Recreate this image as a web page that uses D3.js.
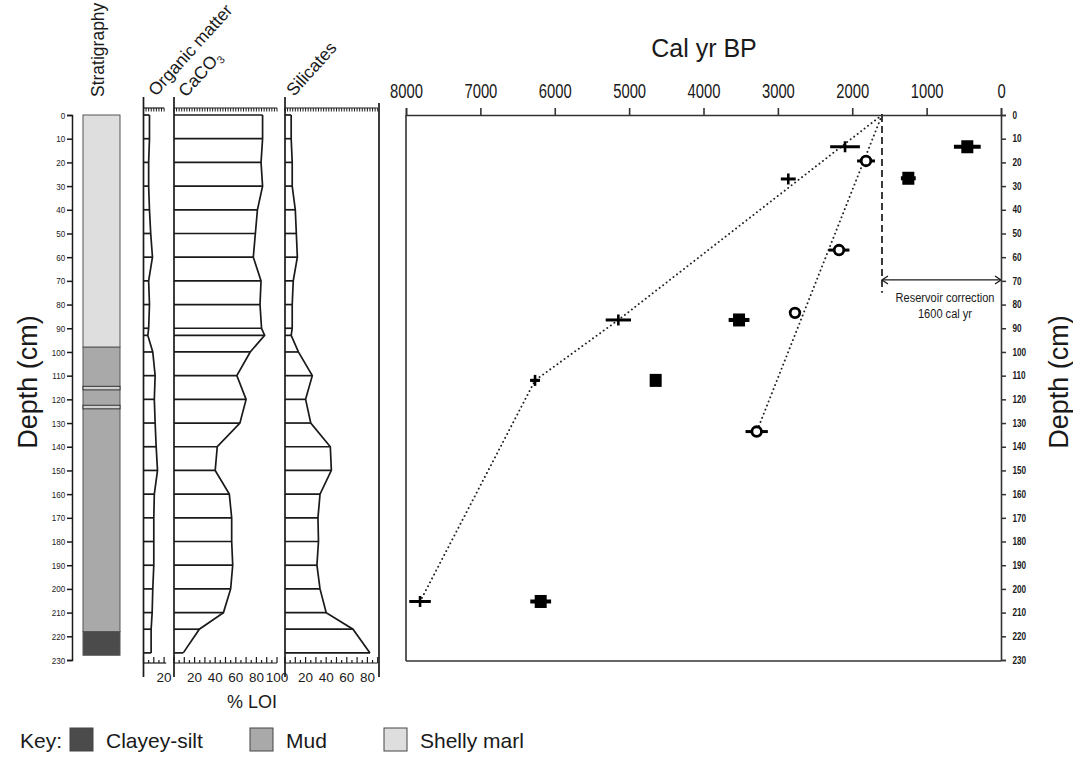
<!DOCTYPE html>
<html><head><meta charset="utf-8">
<script src="https://cdn.jsdelivr.net/npm/d3@7"></script>
<style>
body{margin:0;background:#fff;}
svg{display:block;}
text{font-family:"Liberation Sans",Arial,sans-serif;}
</style></head>
<body>
<script>
// ---------------- DATA ----------------
const sampleDepths = [0,10,20,30,40,50,60,70,80,90,93,100,110,120,130,140,150,160,170,180,190,200,210,217,227];
const organicMatter = [5.8,5.8,5,5,5.8,7,8.7,5,5.8,5,4.2,9,11.3,10.5,11.3,12.3,13.6,10.5,10,10,10,9,8.4,7.4,7.4];
const caco3 = [86,86,84.5,86,81,79,77,84.5,83.5,85,88,74,61,70,64,42,40,53.7,56,56,57,55,48,24.6,9];
const silicates = [6,6,7,7,10,11,12,8,7,7,6,13,26.5,20,25,44,45,34,32,32.5,31,34,40,66,82.5];

const stratLayers = [
  {top:0, bottom:98, type:"Shelly marl"},
  {top:98, bottom:218, type:"Mud"},
  {top:218, bottom:228, type:"Clayey-silt"}
];
const stratBands = [[114.5,116],[122.5,124]];
const legendKeys = ["Clayey-silt","Mud","Shelly marl"];
const stratColors = {"Clayey-silt":"#4b4b4b","Mud":"#a9a9a9","Shelly marl":"#dedede"};

// dates: [cal yr BP, depth cm, error yr]
const crossDates  = [[2097,13.4,200],[2860,27,100],[5145,86.5,170],[6265,112,50],[7811,205.3,145]];
const circleDates = [[1815,19.4,120],[2178,57,140],[2770,83.5,0],[3285,133.6,150]];
const squareDates = [[453,13.4,180],[1246,26.7,100],[3522,86.5,140],[4643,112,0],[6189,205.3,140]];
const ageModel1 = [[1600,0],[5145,86.5],[6265,112],[7811,205.3]];
const ageModel2 = [[1600,0],[3285,133.6]];
const reservoirAge = 1600;
const reservoirDepth = 69.6;

const ageTicks = [8000,7000,6000,5000,4000,3000,2000,1000,0];
const depthTicks = d3.range(0,231,10);
const pctLabelsCa = [20,40,60,80,100];
const pctLabelsSi = [20,40,60,80];
const pctLabelsOM = [20];

// ---------------- LAYOUT ----------------
const W=1073,H=763;
const svg=d3.select("body").append("svg").attr("width",W).attr("height",H);
const y=d3.scaleLinear().domain([0,230]).range([115,660]);
const x=d3.scaleLinear().domain([8000,0]).range([406,1001]);
const PX=1.03; // px per percent
const panels=[
  {x0:143.5, vals:organicMatter, topMax:20, botMax:22, labels:pctLabelsOM},
  {x0:174, vals:caco3, topMax:100, botMax:100, labels:pctLabelsCa},
  {x0:285, vals:silicates, topMax:90, botMax:90, labels:pctLabelsSi}
];
const ink="#1a1a1a";

// ---------- Stratigraphy ----------
const gS=svg.append("g");
gS.selectAll("rect.layer").data(stratLayers).join("rect")
  .attr("x",83).attr("width",37)
  .attr("y",d=>y(d.top)).attr("height",d=>y(d.bottom)-y(d.top))
  .attr("fill",d=>stratColors[d.type]).attr("stroke","#555").attr("stroke-width",1);
gS.selectAll("rect.band").data(stratBands).join("rect")
  .attr("x",83).attr("width",37)
  .attr("y",d=>y(d[0])).attr("height",d=>y(d[1])-y(d[0]))
  .attr("fill","#d2d2d2").attr("stroke","#333").attr("stroke-width",1);

// left depth axis
const axL=d3.axisLeft(y).tickValues(depthTicks).tickSize(5).tickPadding(3);
const gL=svg.append("g").attr("transform","translate(72,0)").call(axL);
gL.select(".domain").attr("stroke",ink).attr("stroke-width",1.5);
gL.selectAll(".tick line").attr("stroke",ink).attr("stroke-width",1.5);
gL.selectAll("text").attr("font-size",9.5).attr("fill",ink).attr("transform","scale(0.85,1)").attr("font-family","Liberation Sans");

// ---------- % LOI panels ----------
panels.forEach(p=>{
  const sx=d3.scaleLinear().domain([0,100]).range([p.x0,p.x0+100*PX]);
  const g=svg.append("g");
  g.selectAll("line.s").data(sampleDepths).join("line")
    .attr("x1",p.x0).attr("x2",(d,i)=>sx(p.vals[i]))
    .attr("y1",d=>y(d)).attr("y2",d=>y(d))
    .attr("stroke",ink).attr("stroke-width",1.7);
  const line=d3.line().x(d=>sx(d[1])).y(d=>y(d[0]));
  g.append("path").datum(sampleDepths.map((d,i)=>[d,p.vals[i]]))
    .attr("d",line).attr("fill","none").attr("stroke",ink).attr("stroke-width",1.7);
  g.append("line").attr("x1",p.x0).attr("x2",p.x0).attr("y1",97).attr("y2",677)
    .attr("stroke",ink).attr("stroke-width",1.7);
  g.append("line").attr("x1",p.x0).attr("x2",sx(p.topMax)).attr("y1",108).attr("y2",108)
    .attr("stroke",ink).attr("stroke-width",1.2);
  g.selectAll("line.tt").data(d3.range(0,p.topMax+0.01,2.5)).join("line")
    .attr("x1",d=>sx(d)).attr("x2",d=>sx(d)).attr("y1",108).attr("y2",111.5)
    .attr("stroke",ink).attr("stroke-width",1);
  g.append("line").attr("x1",p.x0).attr("x2",sx(p.botMax)).attr("y1",663).attr("y2",663)
    .attr("stroke",ink).attr("stroke-width",1.2);
  g.selectAll("line.bt").data(d3.range(0,p.botMax+0.01,5)).join("line")
    .attr("x1",d=>sx(d)).attr("x2",d=>sx(d)).attr("y1",663).attr("y2",d=>d%10===0?657:660)
    .attr("stroke",ink).attr("stroke-width",1.2);
  g.selectAll("text.bl").data(p.labels).join("text")
    .attr("x",d=>sx(d)).attr("y",682)
    .attr("text-anchor","middle").attr("font-size",13.5).attr("fill",ink).text(d=>d);
});
svg.append("line").attr("x1",379).attr("x2",379).attr("y1",103).attr("y2",677)
  .attr("stroke",ink).attr("stroke-width",1.7);

// headers
svg.append("text").attr("font-size",17.5).attr("fill",ink)
  .attr("transform","translate(104,97) rotate(-90)").text("Stratigraphy");
svg.append("text").attr("font-size",17.5).attr("fill",ink)
  .attr("transform","translate(156,97) rotate(-48)").text("Organic matter");
const ca=svg.append("text").attr("font-size",17.5).attr("fill",ink)
  .attr("transform","translate(186,98) rotate(-48)");
ca.append("tspan").text("CaCO");
ca.append("tspan").attr("font-size",11).attr("dy",4).text("3");
svg.append("text").attr("font-size",17.5).attr("fill",ink)
  .attr("transform","translate(294,97) rotate(-48)").text("Silicates");
svg.append("text").attr("font-size",18).attr("fill",ink)
  .attr("x",252).attr("y",708).attr("text-anchor","middle").text("% LOI");

// ---------- Age-depth plot ----------
const gA=svg.append("g");
gA.append("line").attr("x1",406).attr("x2",406).attr("y1",115).attr("y2",661).attr("stroke","#333").attr("stroke-width",1.6);
gA.append("line").attr("x1",406).attr("x2",1001).attr("y1",661).attr("y2",661).attr("stroke","#333").attr("stroke-width",1.6);
const axT=d3.axisTop(x).tickValues(ageTicks).tickFormat(d3.format("d")).tickSize(7).tickPadding(10);
const gT=svg.append("g").attr("transform","translate(0,115)").call(axT);
gT.select(".domain").attr("stroke","#333").attr("stroke-width",1.6);
gT.selectAll(".tick line").attr("stroke","#333").attr("stroke-width",1.6);
gT.selectAll("text").attr("font-size",19.5).attr("fill",ink).attr("transform","scale(0.76,1)").attr("font-family","Liberation Sans");
const axR=d3.axisRight(y).tickValues(depthTicks).tickSize(5).tickPadding(9);
const gR=svg.append("g").attr("transform","translate(1001,0)").call(axR);
gR.select(".domain").attr("stroke","#333").attr("stroke-width",1.6);
gR.selectAll(".tick line").attr("stroke","#333").attr("stroke-width",1.5);
gR.selectAll("text").attr("font-size",10).attr("font-weight","bold").attr("fill",ink).attr("transform","scale(0.82,1)").attr("font-family","Liberation Sans");

svg.append("text").attr("font-size",25).attr("fill",ink)
  .attr("x",704).attr("y",57).attr("text-anchor","middle").text("Cal yr BP");
svg.append("text").attr("font-size",27).attr("fill",ink)
  .attr("transform","translate(37,382) rotate(-90)").attr("text-anchor","middle").text("Depth (cm)");
svg.append("text").attr("font-size",27).attr("fill",ink)
  .attr("transform","translate(1068,382) rotate(-90)").attr("text-anchor","middle").text("Depth (cm)");

// age models (dotted)
const ageLine=d3.line().x(d=>x(d[0])).y(d=>y(d[1]));
[ageModel1,ageModel2].forEach(m=>{
  gA.append("path").datum(m).attr("d",ageLine).attr("fill","none")
    .attr("stroke","#222").attr("stroke-width",1.9).attr("stroke-linecap","round")
    .attr("stroke-dasharray","0.1,4.3");
});
// reservoir dashed line & arrow
gA.append("line").attr("x1",x(reservoirAge)).attr("x2",x(reservoirAge))
  .attr("y1",y(0)).attr("y2",y(75)).attr("stroke",ink).attr("stroke-width",1.7).attr("stroke-dasharray","7,4");
const ay=y(reservoirDepth), ax1=x(reservoirAge), ax2=x(0);
gA.append("line").attr("x1",ax1).attr("x2",ax2).attr("y1",ay).attr("y2",ay).attr("stroke",ink).attr("stroke-width",1.3);
gA.append("path").attr("d",`M${ax1+6},${ay-4}L${ax1},${ay}L${ax1+6},${ay+4}M${ax2-6},${ay-4}L${ax2},${ay}L${ax2-6},${ay+4}`)
  .attr("fill","none").attr("stroke",ink).attr("stroke-width",1.3);
gA.append("text").attr("font-size",13.5).attr("fill",ink)
  .attr("transform","translate(945,302) scale(0.82,1)").attr("text-anchor","middle").text("Reservoir correction");
gA.append("text").attr("font-size",13.5).attr("fill",ink)
  .attr("transform","translate(945,318) scale(0.82,1)").attr("text-anchor","middle").text("1600 cal yr");

// error bars
function errBars(data,w){
  gA.selectAll(null).data(data.filter(d=>d[2]>0)).join("line")
    .attr("x1",d=>x(d[0]+d[2])).attr("x2",d=>x(d[0]-d[2]))
    .attr("y1",d=>y(d[1])).attr("y2",d=>y(d[1]))
    .attr("stroke","#000").attr("stroke-width",w);
}
errBars(crossDates,3);
errBars(circleDates,3);
errBars(squareDates,4);
gA.selectAll(null).data(crossDates).join("line")
  .attr("x1",d=>x(d[0])).attr("x2",d=>x(d[0]))
  .attr("y1",d=>y(d[1])-5.5).attr("y2",d=>y(d[1])+5.5)
  .attr("stroke","#000").attr("stroke-width",2.6);
gA.selectAll(null).data(crossDates.filter(d=>d[2]<=60)).join("line")
  .attr("x1",d=>x(d[0])-5).attr("x2",d=>x(d[0])+5)
  .attr("y1",d=>y(d[1])).attr("y2",d=>y(d[1]))
  .attr("stroke","#000").attr("stroke-width",3);
gA.selectAll(null).data(circleDates).join("circle")
  .attr("cx",d=>x(d[0])).attr("cy",d=>y(d[1])).attr("r",4.8)
  .attr("fill","#fff").attr("stroke","#000").attr("stroke-width",2.8);
gA.selectAll(null).data(squareDates).join("rect")
  .attr("x",d=>x(d[0])-6).attr("y",d=>y(d[1])-6.5).attr("width",12).attr("height",13)
  .attr("fill","#000");

// ---------- Legend ----------
const lg=svg.append("g");
lg.append("text").attr("font-size",21).attr("fill",ink)
  .attr("x",20).attr("y",748).text("Key:");
const legX=[70,250,384];
legendKeys.forEach((k,i)=>{
  lg.append("rect").attr("x",legX[i]).attr("y",728).attr("width",23).attr("height",23)
    .attr("fill",stratColors[k]).attr("stroke","#444").attr("stroke-width",1);
  lg.append("text").attr("font-size",21).attr("fill",ink)
    .attr("x",legX[i]+36).attr("y",748).text(k);
});
</script>
</body></html>
